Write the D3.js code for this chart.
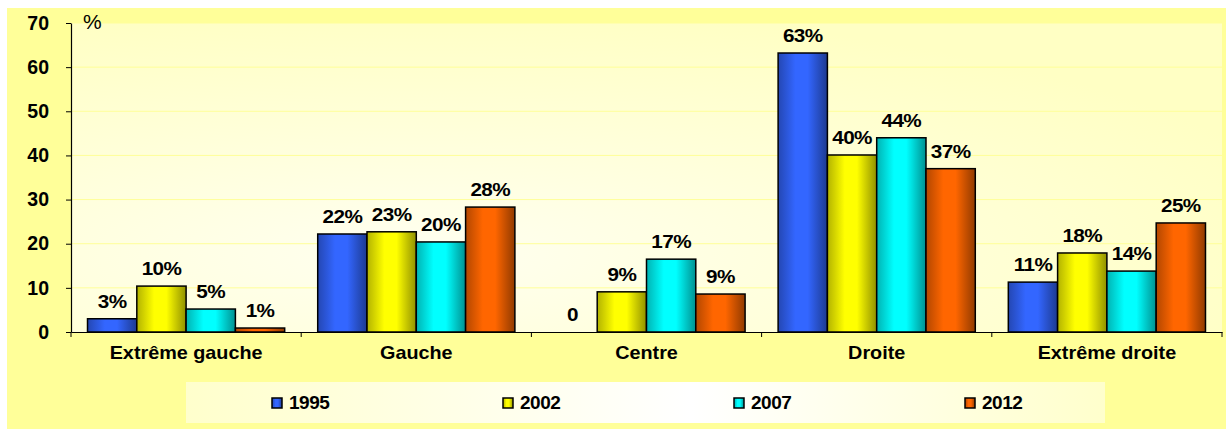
<!DOCTYPE html>
<html>
<head>
<meta charset="utf-8">
<script src="https://cdn.jsdelivr.net/npm/d3@7"></script>
<style>
  body { margin: 0; background: #fff; }
  svg { display: block; font-family: 'Liberation Sans', Arial, sans-serif; }
</style>
</head>
<body>
<div id="chart"></div>
<script>
const categories = ['Extrême gauche', 'Gauche', 'Centre', 'Droite', 'Extrême droite'];
const years = ['1995', '2002', '2007', '2012'];
const colors = ['#3366ff', '#ffff00', '#00ffff', '#ff6600'];

const values1995 = [3.0, 22.2, 0, 63.2, 11.3];
const values2002 = [10.4, 22.7, 9.1, 40.1, 17.9];
const values2007 = [5.2, 20.4, 16.5, 44.0, 13.8];
const values2012 = [0.9, 28.3, 8.6, 37.0, 24.7];

const labels1995 = ['3%', '22%', '0', '63%', '11%'];
const labels2002 = ['10%', '23%', '9%', '40%', '18%'];
const labels2007 = ['5%', '20%', '17%', '44%', '14%'];
const labels2012 = ['1%', '28%', '9%', '37%', '25%'];

const yTicks = [0, 10, 20, 30, 40, 50, 60, 70];

const seriesValues = [values1995, values2002, values2007, values2012];
const seriesLabels = [labels1995, labels2002, labels2007, labels2012];

const width = 1226;
const height = 429;
const plot = { left: 71, right: 1222, top: 23, bottom: 332 };

const svg = d3.select('#chart')
  .append('svg')
  .attr('width', width)
  .attr('height', height);

const defs = svg.append('defs');

// bar gradients: dark edge, bright middle, darker right edge
colors.forEach((c, i) => {
  const g = defs.append('linearGradient')
    .attr('id', `bar${i}`)
    .attr('x1', 0).attr('x2', 1).attr('y1', 0).attr('y2', 0);
  g.append('stop').attr('offset', '0%').attr('stop-color', d3.color(c).darker(1.0));
  g.append('stop').attr('offset', '35%').attr('stop-color', c);
  g.append('stop').attr('offset', '60%').attr('stop-color', c);
  g.append('stop').attr('offset', '100%').attr('stop-color', d3.color(c).darker(1.6));
});

const plotGrad = defs.append('radialGradient')
  .attr('id', 'plotBg').attr('cx', '30%').attr('cy', '75%').attr('r', '80%');
plotGrad.append('stop').attr('offset', '0%').attr('stop-color', '#fffff0');
plotGrad.append('stop').attr('offset', '100%').attr('stop-color', '#ffffc4');

const legendGrad = defs.append('linearGradient')
  .attr('id', 'legendBg').attr('x1', 0).attr('x2', 1);
legendGrad.append('stop').attr('offset', '0%').attr('stop-color', '#ffffcc');
legendGrad.append('stop').attr('offset', '55%').attr('stop-color', '#ffffff');
legendGrad.append('stop').attr('offset', '100%').attr('stop-color', '#ffffcc');

// backgrounds
svg.append('rect')
  .attr('x', 7).attr('y', 8)
  .attr('width', width - 7).attr('height', height - 8)
  .attr('fill', '#ffff99');

svg.append('rect')
  .attr('x', plot.left).attr('y', plot.top)
  .attr('width', plot.right - plot.left).attr('height', plot.bottom - plot.top)
  .attr('fill', 'url(#plotBg)');

const x0 = d3.scaleBand()
  .domain(categories)
  .range([plot.left, plot.right])
  .padding(0);

const x1 = d3.scaleBand()
  .domain(years)
  .range([0, x0.bandwidth()])
  .paddingInner(0)
  .paddingOuter(0.335);

const y = d3.scaleLinear()
  .domain([0, 70])
  .range([plot.bottom, plot.top]);

// gridlines
svg.append('g')
  .selectAll('line')
  .data(yTicks.slice(1))
  .join('line')
  .attr('x1', plot.left).attr('x2', plot.right)
  .attr('y1', d => y(d)).attr('y2', d => y(d))
  .attr('stroke', '#ffff99')
  .attr('stroke-width', 1);

// bars
const groups = svg.append('g')
  .selectAll('g')
  .data(categories)
  .join('g')
  .attr('transform', d => `translate(${x0(d)},0)`);

groups.each(function(cat, ci) {
  const g = d3.select(this);
  years.forEach((yr, si) => {
    const v = seriesValues[si][ci];
    if (v > 0) {
      g.append('rect')
        .attr('x', x1(yr))
        .attr('y', y(v))
        .attr('width', x1.bandwidth())
        .attr('height', y(0) - y(v))
        .attr('fill', `url(#bar${si})`)
        .attr('stroke', '#000')
        .attr('stroke-width', 1.5);
    }
    const cx = x1(yr) + x1.bandwidth() / 2;
    g.append('text')
      .attr('transform', `translate(${cx},${y(v) - 11}) scale(1.15,1)`)
      .attr('text-anchor', 'middle')
      .attr('font-size', 18)
      .attr('font-weight', 'bold')
      .attr('letter-spacing', -0.5)
      .attr('fill', '#000')
      .text(seriesLabels[si][ci]);
  });
});

// axes
const yAxis = d3.axisLeft(y).tickValues(yTicks).tickSize(5).tickSizeOuter(0).tickPadding(17);
const yAxisG = svg.append('g')
  .attr('transform', `translate(${plot.left},0)`)
  .call(yAxis);
yAxisG.select('.domain').attr('stroke', '#000').attr('stroke-width', 1.2);
yAxisG.selectAll('.tick line').attr('stroke', '#000');
yAxisG.selectAll('.tick text')
  .attr('font-size', 19.5)
  .attr('font-weight', 'bold')
  .attr('font-family', "'Liberation Sans', Arial, sans-serif")
  .attr('fill', '#000');

const xAxis = d3.axisBottom(x0).tickSize(0).tickSizeOuter(0).tickPadding(0).tickFormat('');
const xAxisG = svg.append('g')
  .attr('transform', `translate(0,${plot.bottom})`)
  .call(xAxis);
xAxisG.select('.domain').attr('stroke', '#000').attr('stroke-width', 1.2);

// category separators
xAxisG.append('g')
  .selectAll('line')
  .data(categories.map(c => x0(c)).concat([plot.right]))
  .join('line')
  .attr('x1', d => d).attr('x2', d => d)
  .attr('y1', 0).attr('y2', 5)
  .attr('stroke', '#000');

// category labels
xAxisG.append('g')
  .selectAll('text')
  .data(categories)
  .join('text')
  .attr('transform', d => `translate(${x0(d) + x0.bandwidth() / 2},27) scale(1.1,1)`)
  .attr('text-anchor', 'middle')
  .attr('font-size', 18)
  .attr('font-weight', 'bold')
  .attr('fill', '#000')
  .text(d => d);

// unit
svg.append('text')
  .attr('x', 83).attr('y', 29)
  .attr('font-size', 21)
  .attr('fill', '#000')
  .text('%');

// legend
const legend = svg.append('g');
legend.append('rect')
  .attr('x', 186).attr('y', 382)
  .attr('width', 919).attr('height', 41)
  .attr('fill', 'url(#legendBg)');

const legendX = d3.scalePoint()
  .domain(years)
  .range([272, 965]);

const items = legend.selectAll('g')
  .data(years)
  .join('g')
  .attr('transform', d => `translate(${legendX(d)},398)`);

items.append('rect')
  .attr('width', 10).attr('height', 10)
  .attr('fill', (d, i) => `url(#bar${i})`)
  .attr('stroke', '#000')
  .attr('stroke-width', 1.5);

items.append('text')
  .attr('x', 17).attr('y', 11)
  .attr('font-size', 19)
  .attr('font-weight', 'bold')
  .attr('letter-spacing', -0.5)
  .attr('fill', '#000')
  .text(d => d);
</script>
</body>
</html>
